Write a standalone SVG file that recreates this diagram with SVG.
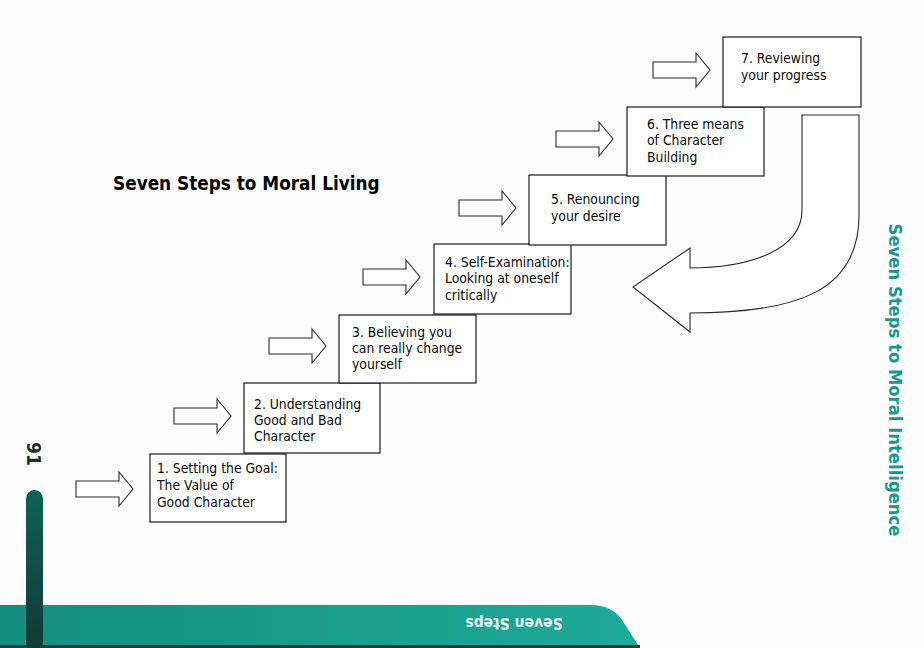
<svg xmlns="http://www.w3.org/2000/svg" width="924" height="648" viewBox="0 0 924 648">
<defs>
<style>
.box{fill:#fff;stroke:#1a1a1a;stroke-width:1.2}
.arr{fill:#fff;stroke:#2a2a2a;stroke-width:1.1;stroke-linejoin:miter}
.t{font-family:"DejaVu Sans Condensed","DejaVu Sans",sans-serif;font-size:13.8px;fill:#0a0a0a}
.title{font-family:"DejaVu Sans Condensed","DejaVu Sans",sans-serif;font-size:18.8px;font-weight:bold;fill:#000}
.side{font-family:"DejaVu Sans Condensed","DejaVu Sans",sans-serif;font-size:18.3px;font-weight:bold;fill:#14998b}
</style>
<linearGradient id="band" x1="0" y1="0" x2="1" y2="0">
<stop offset="0" stop-color="#148d7e"/>
<stop offset="1" stop-color="#20aa9a"/>
</linearGradient>
<linearGradient id="bar" x1="0" y1="0" x2="0" y2="1">
<stop offset="0" stop-color="#0f6256"/>
<stop offset="1" stop-color="#0f3a35"/>
</linearGradient>
</defs>
<rect width="924" height="648" fill="#fdfdfd"/>

<g id="page-decor">
<path d="M0,605 H590 Q612,605 622,620 L640,648 H0 Z" fill="url(#band)"/>
<rect x="0" y="645" width="640" height="3" fill="#173f3b"/>
<rect x="26" y="490" width="17" height="160" rx="8.5" fill="url(#bar)"/>
<text transform="translate(27,454) rotate(90)" text-anchor="middle" style="font-family:'DejaVu Sans Condensed','DejaVu Sans',sans-serif;font-size:19px;font-weight:bold;fill:#16302c">91</text>
<text transform="translate(514,618) rotate(180)" text-anchor="middle" style="font-family:'DejaVu Sans Condensed','DejaVu Sans',sans-serif;font-size:15.5px;font-weight:bold;fill:#e6f4f1">Seven Steps</text>
<text class="side" transform="translate(889,380) rotate(90)" text-anchor="middle">Seven Steps to Moral Intelligence</text>
</g>

<text id="title" class="title" x="113" y="190">Seven Steps to Moral Living</text>

<g id="connectors">
<path class="arr" d="M76,481 H119 V472 L133,489 L119,506 V497 H76 Z"/>
<path class="arr" d="M174,408 H217 V399 L231,416 L217,433 V424 H174 Z"/>
<path class="arr" d="M269,338 H312 V329 L326,346 L312,363 V354 H269 Z"/>
<path class="arr" d="M363,269 H406 V260 L420,277 L406,294 V285 H363 Z"/>
<path class="arr" d="M459,200 H502 V191 L516,208 L502,225 V216 H459 Z"/>
<path class="arr" d="M556,131 H599 V122 L613,139 L599,156 V147 H556 Z"/>
<path class="arr" d="M653,62 H696 V53 L710,70 L696,87 V78 H653 Z"/>
<path class="arr" d="M802,115 H859 V215 C859,290 800,313 690,313 V332 L633,287 L690,248 V268 C750,268 802,250 802,210 Z"/>
</g>

<g id="step1"><rect class="box" x="150" y="454" width="136" height="68"/>
<text class="t"><tspan x="157" y="473">1. Setting the Goal:</tspan><tspan x="157" y="490">The Value of</tspan><tspan x="157" y="507">Good Character</tspan></text></g>
<g id="step2"><rect class="box" x="244" y="383" width="136" height="70"/>
<text class="t"><tspan x="254" y="409">2. Understanding</tspan><tspan x="254" y="425">Good and Bad</tspan><tspan x="254" y="441">Character</tspan></text></g>
<g id="step3"><rect class="box" x="339" y="315" width="137" height="68"/>
<text class="t"><tspan x="352" y="337">3. Believing you</tspan><tspan x="352" y="353">can really change</tspan><tspan x="352" y="369">yourself</tspan></text></g>
<g id="step4"><rect class="box" x="434" y="244" width="137" height="70"/>
<text class="t"><tspan x="445" y="267">4. Self-Examination:</tspan><tspan x="445" y="283">Looking at oneself</tspan><tspan x="445" y="300">critically</tspan></text></g>
<g id="step5"><rect class="box" x="529" y="175" width="137" height="70"/>
<text class="t"><tspan x="551" y="204">5. Renouncing</tspan><tspan x="551" y="221">your desire</tspan></text></g>
<g id="step6"><rect class="box" x="627" y="107" width="137" height="69"/>
<text class="t"><tspan x="647" y="129">6. Three means</tspan><tspan x="647" y="145">of Character</tspan><tspan x="647" y="162">Building</tspan></text></g>
<g id="step7"><rect class="box" x="723" y="37" width="138" height="70"/>
<text class="t"><tspan x="741" y="63">7. Reviewing</tspan><tspan x="741" y="80">your progress</tspan></text></g>
</svg>
